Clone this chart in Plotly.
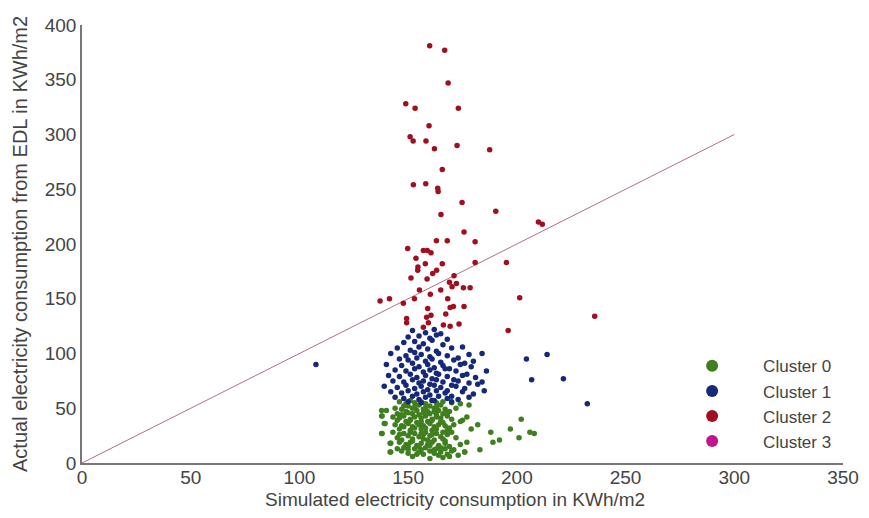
import plotly.graph_objects as go

# cluster 0 (green)
c0_x = [146, 149, 151, 153, 156, 158, 161, 163, 166, 150, 155, 160, 165, 170, 174, 178,
        140, 144, 147, 149, 152, 154, 157, 159, 162, 164, 167, 169, 172, 145, 150, 155, 160, 163, 168,
        138, 143, 146, 148, 151, 153, 156, 158, 161, 163, 165, 168, 170, 177, 175, 149, 154, 159, 166,
        139, 144, 147, 150, 152, 155, 157, 160, 162, 164, 167, 169, 171, 182, 146, 151, 156, 161, 158,
        138, 143, 148, 150, 153, 155, 157, 160, 163, 165, 168, 170, 179, 188, 145, 152, 159, 166, 172,
        142, 146, 149, 151, 154, 156, 159, 161, 164, 167, 169, 174, 177, 148, 153, 158, 163, 171,
        142, 147, 150, 155, 157, 160, 162, 165, 168, 170, 176, 183, 152, 160, 166, 169, 173,
        148, 153, 158, 163, 147, 152, 157, 162, 166, 145, 151, 156, 161, 165, 148, 153, 158, 163, 168,
        146, 151, 156, 161, 166, 147, 152, 157, 162, 167, 150, 155, 160, 165, 145, 150, 156, 162, 167,
        154, 164, 202, 197, 201, 206, 208, 192, 189, 176, 174, 137.8, 137.8, 139.4, 137.8, 141.7, 141.7]
c0_y = [56, 54, 57, 55, 56, 54, 57, 55, 56, 52, 53, 52, 53, 55, 54, 53,
        48, 50, 49, 47, 50, 48, 49, 47, 50, 48, 49, 47, 50, 45, 46, 44, 45, 44, 46,
        43, 42, 41, 43, 40, 42, 41, 43, 40, 42, 41, 43, 40, 42, 39, 38, 37, 38, 37,
        36, 35, 34, 36, 33, 35, 34, 36, 33, 35, 34, 32, 35, 35, 31, 30, 31, 30, 28,
        27, 28, 27, 25, 27, 24, 26, 25, 27, 24, 26, 28, 31, 28, 23, 22, 21, 22, 23,
        18, 19, 17, 19, 16, 18, 17, 19, 16, 18, 15, 17, 19, 14, 13, 14, 13, 12,
        10, 11, 9, 10, 8, 11, 9, 10, 8, 11, 10, 12, 6, 4, 5, 6, 7,
        52, 51, 50, 51, 44, 45, 46, 47, 45, 39, 39, 38, 39, 38, 33, 32, 32, 31, 30,
        26, 28, 27, 26, 28, 21, 20, 22, 21, 20, 15, 15, 16, 14, 13, 12, 12, 12, 13,
        8, 7, 40, 31, 23, 28, 27, 21, 19, 10, 38, 48, 43, 36, 27, 18, 10]

# cluster 1 (blue)
c1_x = [152, 158, 162, 165, 150, 155, 160, 163, 168, 148, 153, 157, 161, 166, 175,
        145, 151, 155, 159, 163, 170, 178, 142, 149, 153, 156, 160, 164, 168, 173, 184,
        146, 150, 154, 158, 161, 165, 171, 176, 180, 140, 147, 152, 155, 159, 162, 166, 169, 174, 179,
        144, 149, 153, 157, 160, 163, 167, 172, 177, 186, 141, 146, 151, 154, 158, 161, 164, 168, 171, 175, 181,
        143, 148, 152, 155, 157, 160, 163, 166, 170, 173, 178, 184,
        139, 145, 149, 153, 156, 159, 162, 165, 168, 172, 176, 182,
        142, 147, 150, 154, 157, 160, 163, 167, 170, 175, 180, 185,
        144, 148, 152, 155, 158, 161, 164, 168, 173, 178, 150, 156, 162, 170,
        107.6, 204.4, 213.9, 206.8, 221.4, 232.4]
c1_y = [121, 119, 122, 118, 115, 116, 114, 117, 113, 110, 111, 109, 112, 108, 106,
        105, 103, 106, 104, 102, 105, 99, 100, 98, 101, 99, 97, 100, 98, 96, 100,
        95, 94, 96, 93, 95, 92, 94, 91, 93, 90, 89, 91, 88, 90, 87, 89, 86, 90, 88,
        85, 84, 86, 83, 85, 82, 86, 84, 81, 84, 80, 79, 81, 78, 80, 77, 81, 79, 76, 80, 78,
        75, 74, 76, 73, 75, 72, 76, 74, 71, 75, 73, 74,
        70, 69, 71, 68, 70, 67, 71, 69, 66, 70, 68, 72,
        65, 64, 66, 63, 65, 62, 66, 64, 61, 65, 63, 66,
        60, 59, 61, 58, 60, 57, 61, 59, 58, 60, 56, 55, 57, 56,
        90, 95, 99, 76, 77, 54]

# cluster 2 (red)
c2_x = [159.9, 166.8, 168.4, 148.9, 153.2, 173.1, 159.6, 150.9, 152.3, 158.2, 162.1, 172.5, 187.5, 165.7,
        152.4, 158.1, 163.6, 163.8, 174.8, 165.1, 190.3, 209.9, 211.7, 175.7, 163, 168, 180.8,
        149.8, 157, 158.8, 160.5, 153.6, 195.2, 180.8, 154.5, 154.4, 157.9, 165.7, 163.1, 161.3,
        158.7, 151.3, 171.1, 169, 172.2, 170.2, 175.4, 178.5, 165, 155.2, 160.2, 137.1, 141.4,
        152.9, 147.8, 168.2, 201.3, 169.3, 170.8, 175.7, 159, 167.3, 160.5, 158.5, 149.3, 196,
        235.8, 149.3, 159.3, 166.2, 169.3, 173.4, 157]
c2_y = [381, 377, 347, 328, 324, 324, 308, 298, 294, 294, 287, 290, 286, 268,
        254, 255, 251, 248, 238, 227, 230, 220, 218, 211, 203, 203, 202,
        196, 194, 194, 192, 187, 183, 183, 179, 176, 182, 182, 176, 173,
        168, 169, 171, 165, 164, 161, 160, 160, 158, 158, 154, 148, 150,
        150, 146, 150, 151, 142, 143, 143, 141, 136, 135, 133, 132, 121,
        134, 128, 128, 126, 125, 127, 124]

# cluster 3 has no points (legend entry only)
c3_x = [None]
c3_y = [None]

line_x = [0, 300]
line_y = [0, 300]

x_title = "Simulated electricity consumption in KWh/m2"
y_title = "Actual electricity consumption from EDL in KWh/m2"

fig = go.Figure()
fig.add_trace(go.Scatter(x=line_x, y=line_y, mode="lines", showlegend=False,
                         line=dict(color="#b07080", width=1)))
for name, xs, ys, col in [("Cluster 0", c0_x, c0_y, "#3f7f1e"),
                          ("Cluster 1", c1_x, c1_y, "#15287a"),
                          ("Cluster 2", c2_x, c2_y, "#a00f20"),
                          ("Cluster 3", c3_x, c3_y, "#c0158f")]:
    fig.add_trace(go.Scatter(x=xs, y=ys, mode="markers", name=name, showlegend=True,
                             marker=dict(color=col, size=5.5)))

# page body adds an 8px offset, so the figure is a bit smaller than the window
fig.update_layout(
    width=853, height=502,
    margin=dict(l=74, r=18, t=17, b=47),
    plot_bgcolor="white", paper_bgcolor="white",
    font=dict(family="Liberation Sans, Arial, sans-serif", size=18, color="#444"),
    legend=dict(x=0.761, y=0.262, xanchor="left", yanchor="top", itemsizing="constant",
                itemwidth=92, font=dict(size=17), tracegroupgap=0, bgcolor="rgba(0,0,0,0)"),
    annotations=[
        dict(text=x_title, xref="paper", yref="paper", x=0.49, y=-0.083,
             xanchor="center", yanchor="middle", showarrow=False, font=dict(size=19)),
        dict(text=y_title, xref="paper", yref="paper", x=-0.0815, y=0.5, textangle=-90,
             xanchor="center", yanchor="middle", showarrow=False, font=dict(size=20)),
    ],
)
fig.update_xaxes(range=[0, 350], dtick=50, showgrid=False, zeroline=False, automargin=False,
                 showline=True, linecolor="#777", linewidth=1.5, ticks="",
                 tickfont=dict(size=19), ticklabelstandoff=-4)
fig.update_yaxes(range=[0, 400], dtick=50, showgrid=False, zeroline=False, automargin=False,
                 showline=True, linecolor="#777", linewidth=1.5, ticks="",
                 tickfont=dict(size=19))

fig.write_html("out.html")
